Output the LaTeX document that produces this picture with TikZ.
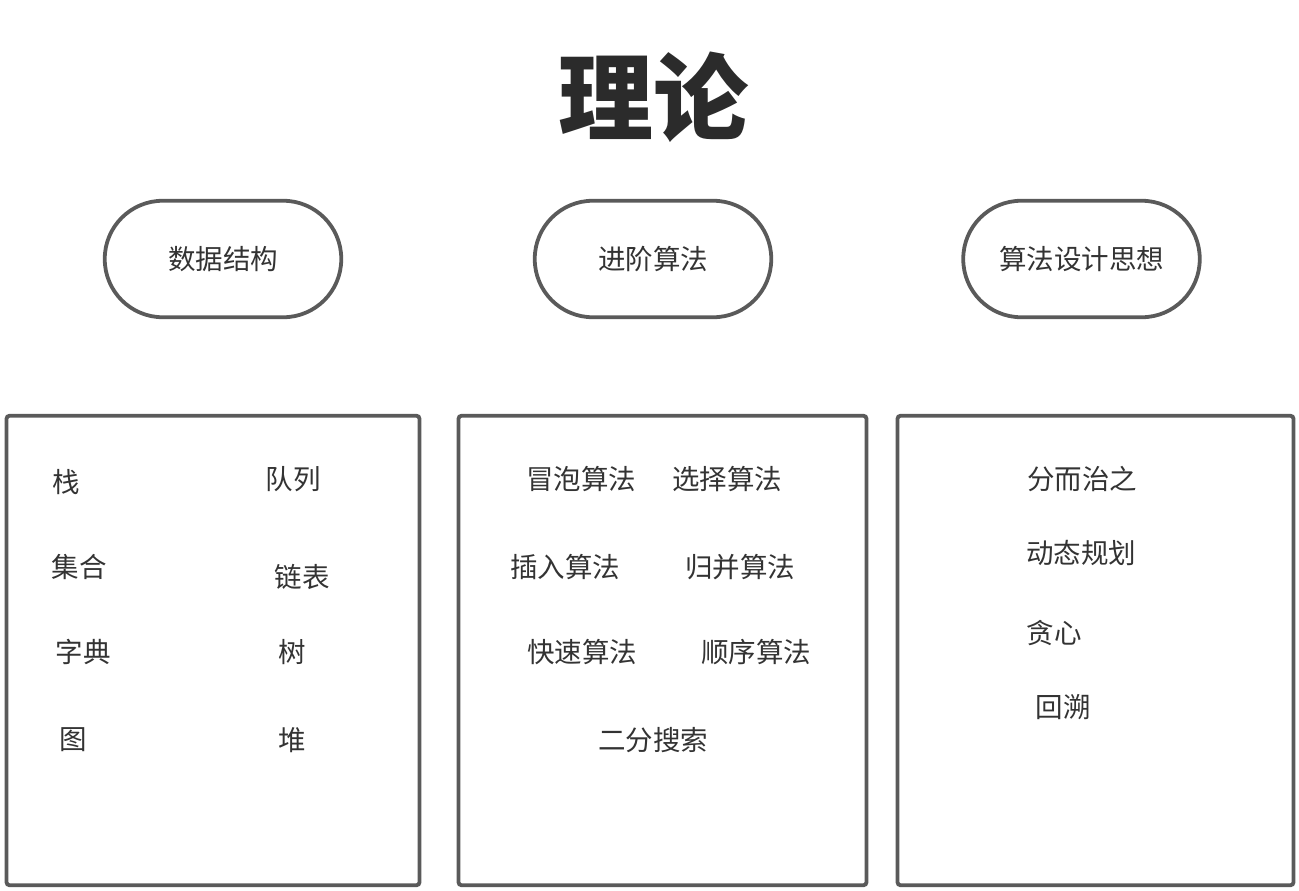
\documentclass[tikz,border=0pt]{standalone}
\usepackage{fontspec}
\setmainfont{Noto Sans CJK SC}
\usetikzlibrary{positioning}
\definecolor{linegray}{HTML}{5A5A5A}
\definecolor{textgray}{HTML}{333333}
\definecolor{titlegray}{HTML}{2B2B2B}
\tikzstyle{every node}=[text=textgray,font=\fontsize{27.5}{33}\selectfont]

\begin{document}
\begin{tikzpicture}[x=1pt,y=-1pt,
		pill/.style={draw=linegray,line width=3.8pt,rounded corners=58pt,
			minimum width=236.5pt,minimum height=116.5pt,inner sep=0pt},
		panel/.style={draw=linegray,line width=3.8pt,rounded corners=3pt,
			minimum height=469.5pt,inner sep=0pt}]
		\useasboundingbox (0,0) rectangle (1299,891);
		
		\node[font=\fontsize{95}{100}\selectfont\bfseries,text=titlegray] (title) at (653,97) {理论};
		
		\node[pill]    (ds)    at (223,259)     {数据结构};
		\node[pill]    (algo)  at (653,259)     {进阶算法};
		\node[pill]    (idea)  at (1081.5,259)  {算法设计思想};
		
		\node[panel,minimum width=413pt]  (dsbox)    at (213,650.5)    {};
		\node[panel,minimum width=408pt]  (algobox)  at (662.5,650.5)  {};
		\node[panel,minimum width=396pt]  (ideabox)  at (1095.5,650.5) {};
		
		% data structures
		\node (stack)  at (66,482)  {栈};
		\node (queue)  at (293,479) {队列};
		\node (set)    at (79,567)  {集合};
		\node (list)   at (302,577) {链表};
		\node (dict)   at (83,652)  {字典};
		\node (tree)   at (292,652) {树};
		\node (graph)  at (73,740)  {图};
		\node (heap)   at (292,740) {堆};
		
		% sorting and searching
		\node (bubble)    at (581,479) {冒泡算法};
		\node (selection) at (727,479) {选择算法};
		\node (insertion) at (565,567) {插入算法};
		\node (merge)     at (740,567) {归并算法};
		\node (quick)     at (582,652) {快速算法};
		\node (sequence)  at (756,652) {顺序算法};
		\node (binary)    at (653,740) {二分搜索};
		
		% design ideas
		\node (divide)    at (1082,479) {分而治之};
		\node (dynamic)   at (1081,553) {动态规划};
		\node (greedy)    at (1054,633) {贪心};
		\node (backtrack) at (1063,707) {回溯};
		
\end{tikzpicture}
\end{document}
